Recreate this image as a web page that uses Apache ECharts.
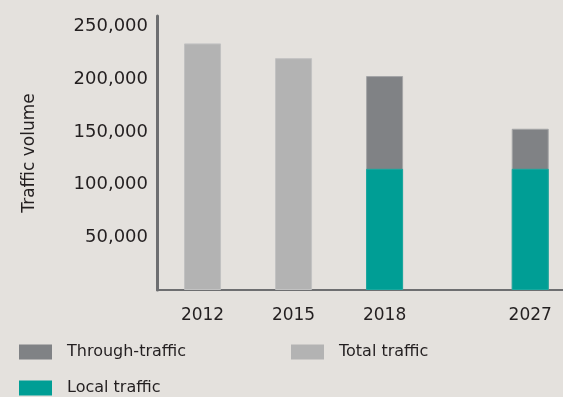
<!DOCTYPE html>
<html>
<head>
<meta charset="utf-8">
<script src="https://cdn.jsdelivr.net/npm/echarts@6/dist/echarts.min.js"></script>
<style>
  html, body { margin: 0; padding: 0; background: #e4e1dd; }
  #chart { width: 563px; height: 397px; }
</style>
</head>
<body>
<div id="chart"></div>
<script>
// Traffic volume by year
const years = ['2012', '2015', '2018', '2027'];
const totalTraffic = [234000, 220000, null, null];
const localTraffic = [null, null, 115000, 115000];
const throughTraffic = [null, null, 88000, 38000];
const yTicks = [50000, 100000, 150000, 200000, 250000];

// horizontal placement of each year's bar (2027 sits further out)
const slots = [0, 1, 2, 3.6];

const FONT = 'DejaVu Sans';
const TEXT = '#231f20';

const pairs = arr => arr.map((v, i) => [slots[i], v == null ? '-' : v]);
const fmt = v => String(v).replace(/\B(?=(\d{3})+(?!\d))/g, ',');

// through-traffic sits on top of local traffic: its bar reaches local + through
const throughTop = throughTraffic.map((v, i) => v == null ? null : v + (localTraffic[i] || 0));

const chart = echarts.init(document.getElementById('chart'));

function barSeries(name, data, color, border, z) {
  return {
    name, type: 'bar', barWidth: 37, barGap: '-100%', z,
    data: pairs(data),
    itemStyle: { color, borderColor: border, borderWidth: 1 },
    emphasis: { disabled: true }
  };
}

function legendAt(name, left, top) {
  return {
    data: [name], left, top, padding: 0,
    icon: 'rect', itemWidth: 33, itemHeight: 15,
    selectedMode: false,
    itemStyle: { borderWidth: 0 },
    textStyle: { fontFamily: FONT, fontSize: 16, color: TEXT, padding: [0, 0, 0, 10] }
  };
}

chart.setOption({
  backgroundColor: '#e4e1dd',
  animation: false,
  grid: { left: 157, right: 0, top: 16, bottom: 107, containLabel: false },
  legend: [
    legendAt('Through-traffic', 19, 344),
    legendAt('Total traffic', 291, 344),
    legendAt('Local traffic', 19, 380)
  ],
  xAxis: {
    type: 'value', min: -0.5, max: 3.96,
    splitLine: { show: false },
    axisLine: { show: true, onZero: false, lineStyle: { color: '#6d6e70', width: 2 } },
    axisTick: { show: false },
    axisLabel: {
      customValues: slots,
      formatter: v => years[slots.indexOf(v)] || '',
      fontFamily: FONT, fontSize: 17, color: TEXT, margin: 17
    }
  },
  yAxis: {
    type: 'value', min: 0, max: 260000, interval: 50000,
    name: 'Traffic volume', nameLocation: 'middle', nameGap: 119, nameRotate: 90,
    nameTextStyle: { fontFamily: FONT, fontSize: 17, color: TEXT },
    splitLine: { show: false },
    axisTick: { show: false },
    axisLine: { show: true, onZero: false, lineStyle: { color: '#6d6e70', width: 3 } },
    axisLabel: {
      showMaxLabel: false,
      formatter: v => yTicks.includes(v) ? fmt(v) : '',
      fontFamily: FONT, fontSize: 18, color: TEXT, margin: 9
    }
  },
  series: [
    barSeries('Through-traffic', throughTop, '#808285', '#a4a5a7', 2),
    barSeries('Local traffic', localTraffic, '#009e95', '#1aa89f', 3),
    barSeries('Total traffic', totalTraffic, '#b3b3b3', '#c2c2c2', 2)
  ]
});
</script>
</body>
</html>
